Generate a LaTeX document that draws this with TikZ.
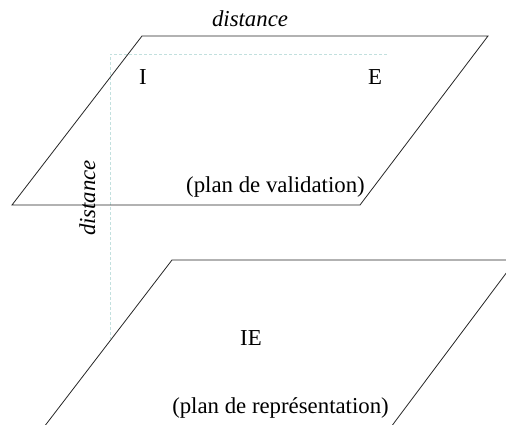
\documentclass[tikz,border=0pt]{standalone}
\usepackage{fontspec}
\setmainfont{Liberation Serif}
\begin{document}
\begin{tikzpicture}[x=1pt,y=-1pt,
  plane/.style={draw=black!85, line width=0.8pt},
  guide/.style={draw={rgb,1:red,0.76;green,0.88;blue,0.87}, line width=0.7pt, dash pattern=on 3pt off 2pt},
  lbl/.style={font=\fontsize{22.8}{27}\selectfont, inner sep=0pt, anchor=base}]
\useasboundingbox (0,0) rectangle (506,425);
\clip (0,0) rectangle (506,425);
% upper plane
\coordinate (u1) at (142,36);
\coordinate (u2) at (488,36);
\coordinate (u3) at (360,205);
\coordinate (u4) at (12,205);
% lower plane
\coordinate (l1) at (172,260);
\coordinate (l2) at (516,260);
\coordinate (l3) at (391,427);
\coordinate (l4) at (44,427);
% guides
\coordinate (g0) at (110,54);
\coordinate (g1) at (387,54);
\coordinate (g2) at (110,339);
\draw[guide] (g1) -- (g0) -- (g2);
\draw[plane] (u1) -- (u2) -- (u3) -- (u4) -- cycle;
\draw[plane] (l4) -- (l1) -- (l2) -- (l3);
% labels
\node[lbl, font=\fontsize{22.8}{27}\selectfont\itshape] (dtop) at (250,27) {distance};
\node[lbl] (I) at (143,85) {I};
\node[lbl] (E) at (375,85) {E};
\node[lbl] (pv) at (275.5,193) {(plan de validation)};
\node[lbl, font=\fontsize{22.8}{27}\selectfont\itshape, rotate=90] (dleft) at (95,198) {distance};
\node[lbl] (IE) at (251,345) {IE};
\node[lbl] (pr) at (280.5,413) {(plan de représentation)};
\end{tikzpicture}
\end{document}
